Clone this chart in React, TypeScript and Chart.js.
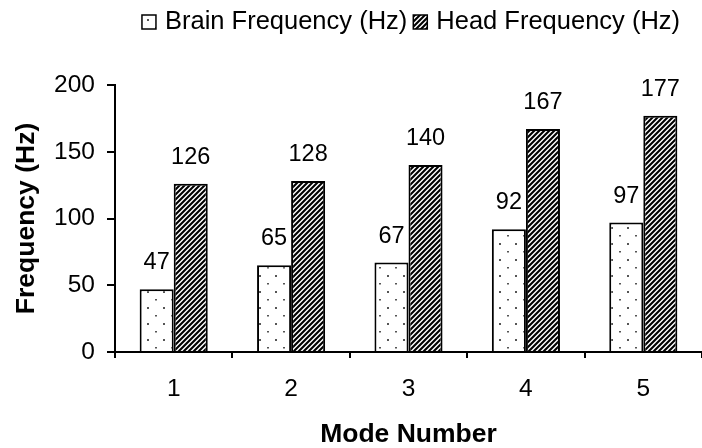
import React, { useEffect, useRef } from "react";
import { Chart, registerables } from "chart.js";

Chart.register(...registerables);

const categories = ["1", "2", "3", "4", "5"];
const brainFrequency = [47, 65, 67, 92, 97];
const headFrequency = [126, 128, 140, 167, 177];
const seriesLabels = ["Brain Frequency (Hz)", "Head Frequency (Hz)"];
const yTickValues = [0, 50, 100, 150, 200];
const xTitle = "Mode Number";
const yTitle = "Frequency (Hz)";

const FONT = '"Liberation Sans", Arial, Helvetica, sans-serif';

function makeDots(): CanvasPattern | string {
  const t = document.createElement("canvas");
  t.width = 16;
  t.height = 16;
  const c = t.getContext("2d");
  if (!c) return "#fff";
  c.fillStyle = "#ffffff";
  c.fillRect(0, 0, 16, 16);
  c.fillStyle = "#555555";
  c.fillRect(3, 3, 2, 2);
  c.fillRect(11, 11, 2, 1.5);
  return c.createPattern(t, "repeat") || "#fff";
}

function makeHatch(): CanvasPattern | string {
  const s = 5;
  const t = document.createElement("canvas");
  t.width = s;
  t.height = s;
  const c = t.getContext("2d");
  if (!c) return "#000";
  c.fillStyle = "#ffffff";
  c.fillRect(0, 0, s, s);
  c.strokeStyle = "#000000";
  c.lineWidth = 2.1;
  c.lineCap = "square";
  c.beginPath();
  c.moveTo(0, s);
  c.lineTo(s, 0);
  c.moveTo(-s, s);
  c.lineTo(s, -s);
  c.moveTo(0, 2 * s);
  c.lineTo(2 * s, 0);
  c.stroke();
  return c.createPattern(t, "repeat") || "#000";
}

export default function App() {
  const ref = useRef<HTMLCanvasElement>(null);

  useEffect(() => {
    document.body.style.margin = "0";
    const canvas = ref.current;
    if (!canvas) return;
    const ctx = canvas.getContext("2d");
    if (!ctx) return;

    const dots = makeDots();
    const hatch = makeHatch();

    const valueLabels = {
      id: "valueLabels",
      afterDatasetsDraw(chart: any) {
        const c = chart.ctx;
        c.save();
        c.font = `23.5px ${FONT}`;
        c.fillStyle = "#000";
        c.textAlign = "center";
        c.textBaseline = "alphabetic";
        chart.data.datasets.forEach((ds: any, di: number) => {
          const meta = chart.getDatasetMeta(di);
          meta.data.forEach((el: any, i: number) => {
            c.fillText(String(ds.data[i]), el.x, el.y - 20);
          });
        });
        c.restore();
      },
    };

    const topLegend = {
      id: "topLegend",
      afterDraw(chart: any) {
        const c = chart.ctx;
        c.save();
        c.font = `25.5px ${FONT}`;
        const box = 14;
        const gapBoxText = 9;
        const gapItems = 6;
        const widths = chart.data.datasets.map((ds: any) => c.measureText(ds.label).width);
        const total =
          widths.reduce((a: number, w: number) => a + box + gapBoxText + w, 0) + gapItems;
        let x = 411 - total / 2;
        const baseline = 29;
        chart.data.datasets.forEach((ds: any, i: number) => {
          c.fillStyle = ds.backgroundColor;
          c.fillRect(x, baseline - box, box, box);
          c.strokeStyle = "#000";
          c.lineWidth = 1.5;
          c.strokeRect(x, baseline - box, box, box);
          x += box + gapBoxText;
          c.fillStyle = "#000";
          c.textAlign = "left";
          c.textBaseline = "alphabetic";
          c.fillText(ds.label, x, baseline);
          x += widths[i] + gapItems;
        });
        c.restore();
      },
    };

    const chart = new Chart(ctx, {
      type: "bar",
      data: {
        labels: categories,
        datasets: [
          {
            label: seriesLabels[0],
            data: brainFrequency,
            backgroundColor: dots as any,
            borderColor: "#000",
            borderWidth: 2,
            categoryPercentage: 0.58,
            barPercentage: 1.0,
          },
          {
            label: seriesLabels[1],
            data: headFrequency,
            backgroundColor: hatch as any,
            borderColor: "#000",
            borderWidth: 2,
            categoryPercentage: 0.58,
            barPercentage: 1.0,
          },
        ],
      },
      options: {
        responsive: false,
        animation: false,
        devicePixelRatio: 1,
        layout: { padding: { top: 85, right: 0, left: 0, bottom: 0 } },
        plugins: {
          legend: { display: false },
          tooltip: { enabled: false },
        },
        scales: {
          x: {
            grid: {
              display: true,
              drawOnChartArea: false,
              drawTicks: true,
              tickLength: 6,
              color: "#000",
              lineWidth: 2,
              offset: true,
            },
            border: { display: true, color: "#000", width: 2 },
            ticks: {
              color: "#000",
              font: { family: FONT, size: 24.5 },
              padding: 17,
            },
            title: {
              display: true,
              text: xTitle,
              color: "#000",
              font: { family: FONT, size: 26.5, weight: "bold", lineHeight: 1.0 },
              padding: { top: 0, bottom: 0 },
            },
            afterFit(scale: any) {
              scale.height = 96;
            },
          },
          y: {
            min: 0,
            max: 200,
            afterBuildTicks(scale: any) {
              scale.ticks = yTickValues.map((v) => ({ value: v }));
            },
            grid: {
              display: true,
              drawOnChartArea: false,
              drawTicks: true,
              tickLength: 8,
              color: "#000",
              lineWidth: 2,
            },
            border: { display: true, color: "#000", width: 2 },
            ticks: {
              color: "#000",
              font: { family: FONT, size: 24.5 },
              padding: 12,
            },
            title: {
              display: true,
              text: yTitle,
              color: "#000",
              font: { family: FONT, size: 26.5, weight: "bold", lineHeight: 1.0 },
              padding: { top: 13, bottom: 0 },
            },
            afterFit(scale: any) {
              scale.width = 115;
            },
          },
        },
      },
      plugins: [valueLabels, topLegend],
    });

    return () => chart.destroy();
  }, []);

  return (
    <div style={{ width: 702, height: 448 }}>
      <canvas ref={ref} width={702} height={448} style={{ display: "block" }} />
    </div>
  );
}
